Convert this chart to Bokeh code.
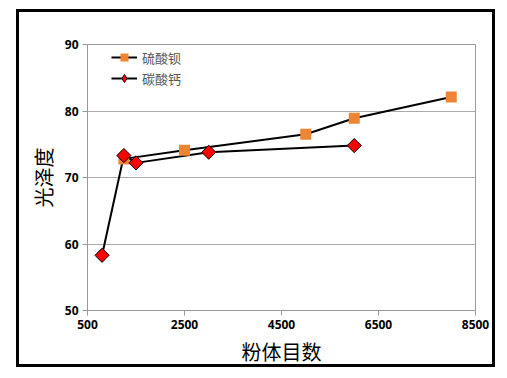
import numpy as np
from bokeh.plotting import figure
from bokeh.models import Range1d, FixedTicker, Legend, LegendItem
from bokeh.embed import file_html
from bokeh.resources import INLINE

# data
baso4_x = [1250, 2500, 5000, 6000, 8000]
baso4_y = [72.8, 74.1, 76.5, 78.9, 82.1]
caco3_x = [800, 1250, 1500, 3000, 6000]
caco3_y = [58.3, 73.3, 72.2, 73.8, 74.8]
x_ticks = [500, 2500, 4500, 6500, 8500]
y_ticks = [50, 60, 70, 80, 90]
series_names = ["硫酸钡", "碳酸钙"]
x_title = "粉体目数"
y_title = "光泽度"

p = figure(width=479, height=358, output_backend="svg", toolbar_location=None,
           x_range=Range1d(500, 8500), y_range=Range1d(50, 90),
           min_border_left=68, min_border_right=23, min_border_top=32, min_border_bottom=60)
p.styles = {"border": "3px solid black", "margin-left": "16px", "margin-top": "9px"}

p.xgrid.visible = False
p.ygrid.grid_line_color = "#aaaaaa"
p.ygrid.grid_line_width = 1
p.outline_line_color = "#999999"
p.outline_line_width = 1

for ax in (p.xaxis[0], p.yaxis[0]):
    ax.axis_line_color = "#999999"
    ax.major_tick_line_color = "#999999"
    ax.minor_tick_line_color = None
    ax.major_tick_out = 5
    ax.major_tick_in = 0
    ax.major_label_text_font = "Open Sans"
    ax.major_label_text_font_style = "bold"
    ax.major_label_text_font_size = "12px"
    ax.major_label_text_color = "black"
    ax.axis_label_text_font = "Noto Sans CJK SC"
    ax.axis_label_text_font_style = "normal"
    ax.axis_label_text_font_size = "20px"
    ax.axis_label_text_color = "black"
    ax.major_label_standoff = 4

p.xaxis.axis_label_standoff = 5
p.yaxis.axis_label_standoff = 4
p.xaxis.ticker = FixedTicker(ticks=x_ticks)
p.yaxis.ticker = FixedTicker(ticks=y_ticks)
p.xaxis.axis_label = x_title
p.yaxis.axis_label = y_title

l1 = p.line(baso4_x, baso4_y, line_color="black", line_width=2)
l2 = p.line(caco3_x, caco3_y, line_color="black", line_width=2)
s1 = p.scatter(baso4_x, baso4_y, marker="square", size=11, fill_color="#EF8533",
               line_color="#EF8533", line_width=0)
# diamond glyph used for the legend (hidden under the rotated squares)
s2_leg = p.scatter(caco3_x, caco3_y, marker="diamond", size=10,
                   fill_color="#FF0000", line_color="black", line_width=1)
s2 = p.scatter(caco3_x, caco3_y, marker="square", angle=np.pi / 4, size=10,
               fill_color="#FF0000", line_color="black", line_width=1)

legend = Legend(items=[LegendItem(label=series_names[0], renderers=[l1, s1]),
                       LegendItem(label=series_names[1], renderers=[l2, s2_leg])],
                location=(24, 222), padding=0, margin=0, spacing=1,
                glyph_width=26, glyph_height=20, label_height=20,
                label_text_font="Noto Sans CJK SC", label_text_font_size="13px",
                label_text_color="#555555", label_standoff=5,
                border_line_color=None, background_fill_alpha=0)
p.add_layout(legend)

open("out.html", "w").write(file_html(p, INLINE))
